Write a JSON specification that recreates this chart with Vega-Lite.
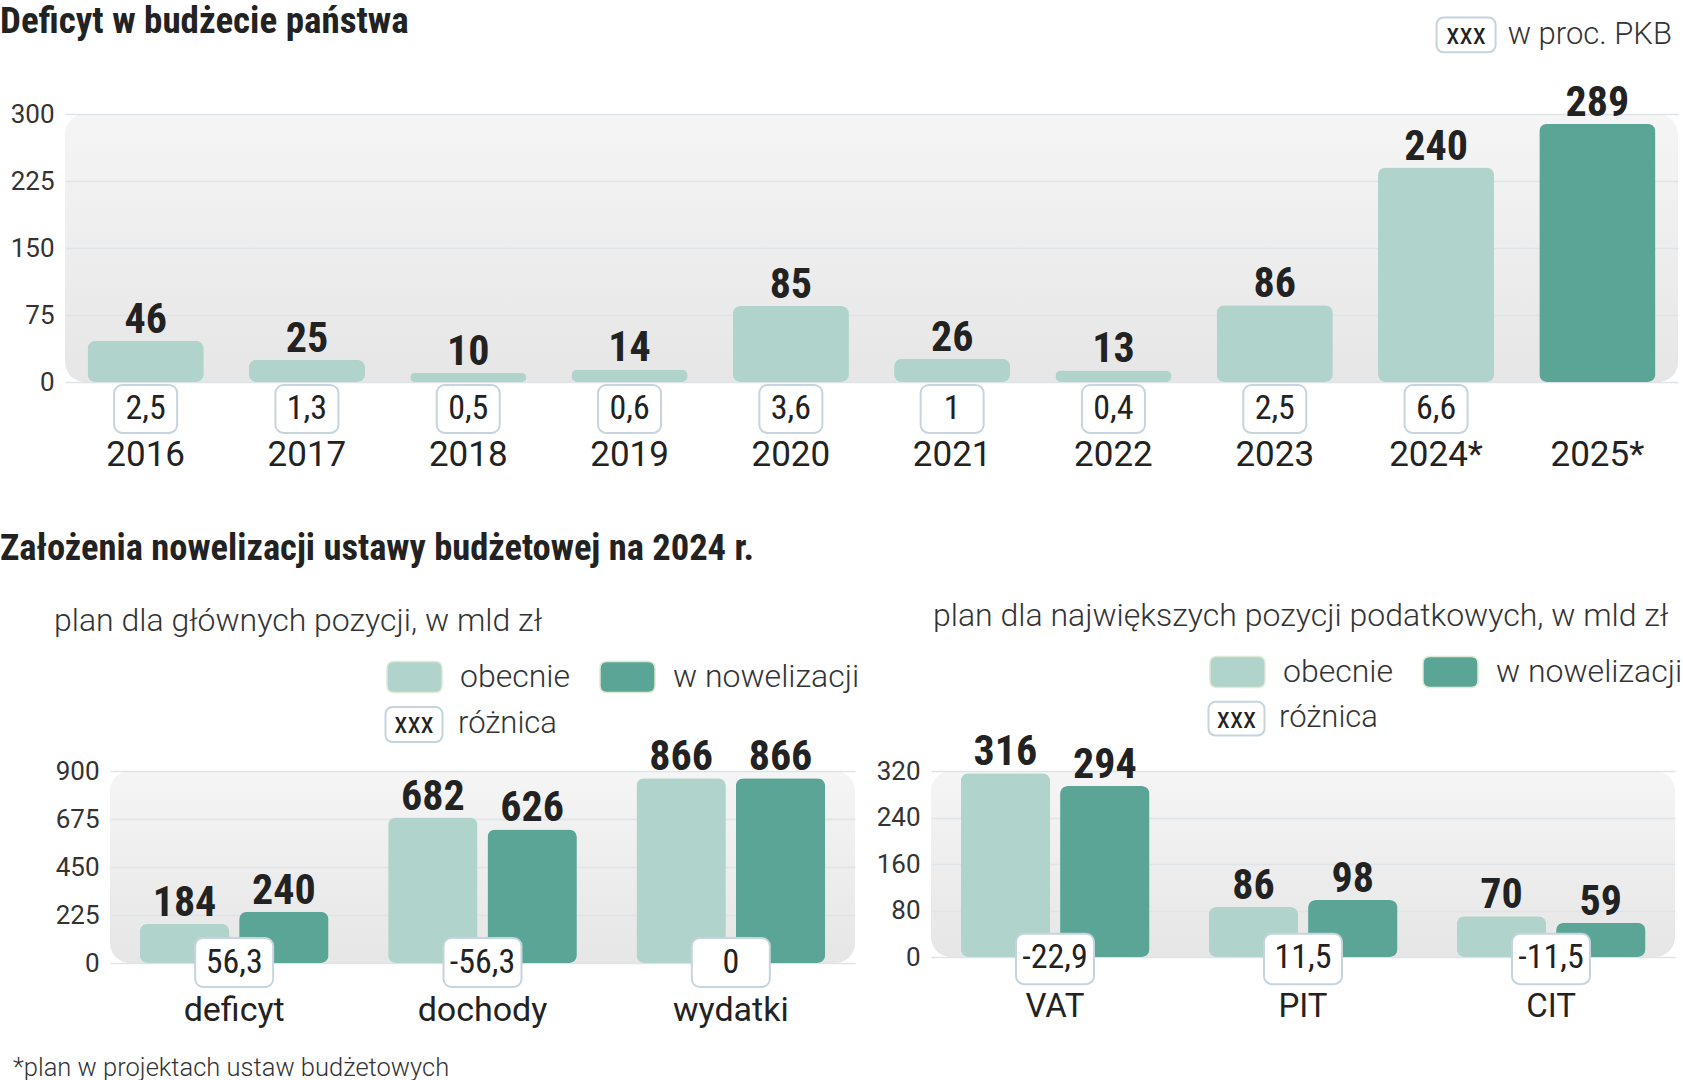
{
  "$schema": "https://vega.github.io/schema/vega-lite/v6.json",
  "padding": {"top": 2, "left": 0, "right": 0, "bottom": 0},
  "background": "white",
  "datasets": {
    "deficyt": [
      {"rok": "2016", "wartosc": 46, "pkb": 2.5, "typ": "wykonanie"},
      {"rok": "2017", "wartosc": 25, "pkb": 1.3, "typ": "wykonanie"},
      {"rok": "2018", "wartosc": 10, "pkb": 0.5, "typ": "wykonanie"},
      {"rok": "2019", "wartosc": 14, "pkb": 0.6, "typ": "wykonanie"},
      {"rok": "2020", "wartosc": 85, "pkb": 3.6, "typ": "wykonanie"},
      {"rok": "2021", "wartosc": 26, "pkb": 1, "typ": "wykonanie"},
      {"rok": "2022", "wartosc": 13, "pkb": 0.4, "typ": "wykonanie"},
      {"rok": "2023", "wartosc": 86, "pkb": 2.5, "typ": "wykonanie"},
      {"rok": "2024*", "wartosc": 240, "pkb": 6.6, "typ": "wykonanie"},
      {"rok": "2025*", "wartosc": 289, "pkb": null, "typ": "projekt"}
    ],
    "glowne": [
      {"kat": "deficyt", "seria": "obecnie", "wartosc": 184},
      {"kat": "deficyt", "seria": "w nowelizacji", "wartosc": 240},
      {"kat": "dochody", "seria": "obecnie", "wartosc": 682},
      {"kat": "dochody", "seria": "w nowelizacji", "wartosc": 626},
      {"kat": "wydatki", "seria": "obecnie", "wartosc": 866},
      {"kat": "wydatki", "seria": "w nowelizacji", "wartosc": 866}
    ],
    "glowne_roznica": [
      {"kat": "deficyt", "roznica": 56.3},
      {"kat": "dochody", "roznica": -56.3},
      {"kat": "wydatki", "roznica": 0}
    ],
    "podatki": [
      {"kat": "VAT", "seria": "obecnie", "wartosc": 316},
      {"kat": "VAT", "seria": "w nowelizacji", "wartosc": 294},
      {"kat": "PIT", "seria": "obecnie", "wartosc": 86},
      {"kat": "PIT", "seria": "w nowelizacji", "wartosc": 98},
      {"kat": "CIT", "seria": "obecnie", "wartosc": 70},
      {"kat": "CIT", "seria": "w nowelizacji", "wartosc": 59}
    ],
    "podatki_roznica": [
      {"kat": "VAT", "roznica": -22.9},
      {"kat": "PIT", "roznica": 11.5},
      {"kat": "CIT", "roznica": -11.5}
    ],
    "legenda_pkb": [{"znak": "xxx", "opis": "w proc. PKB"}],
    "legenda_roznica": [{"znak": "xxx", "opis": "różnica"}]
  },
  "title": {
    "text": "*plan w projektach ustaw budżetowych",
    "orient": "bottom",
    "anchor": "start",
    "frame": "bounds",
    "dx": 13,
    "offset": 29,
    "font": "Roboto",
    "fontWeight": 300,
    "fontSize": 25.5,
    "color": "#333333"
  },
  "spacing": 58,
  "resolve": {"scale": {"color": "independent"}},
  "vconcat": [
    {
      "width": 1613,
      "height": 268,
      "title": {
        "text": "Deficyt w budżecie państwa",
        "anchor": "start",
        "frame": "bounds",
        "offset": -24,
        "font": "Roboto Condensed, Liberation Sans Narrow, DejaVu Sans Condensed, sans-serif",
        "fontWeight": "bold",
        "fontSize": 37,
        "color": "#222222"
      },
      "encoding": {
        "x": {
          "field": "rok",
          "type": "nominal",
          "sort": null,
          "scale": {"paddingInner": 0.28, "paddingOuter": 0.14},
          "axis": {
            "title": null, "domain": false, "ticks": false, "tickSize": 0,
            "labelAngle": 0, "labelPadding": 72, "labelBaseline": "middle",
            "labelFont": "Roboto", "labelFontSize": 35, "labelColor": "#222222"
          }
        }
      },
      "layer": [
        {
          "data": {"name": "deficyt"},
          "mark": {"type": "bar", "cornerRadius": 8},
          "encoding": {
            "y": {
              "field": "wartosc", "type": "quantitative",
              "scale": {"domain": [0, 300], "nice": false},
              "axis": {
                "title": null, "values": [0, 75, 150, 225, 300], "domain": false,
                "ticks": false, "tickSize": 0, "labelPadding": 11,
                "labelFont": "Roboto", "labelFontSize": 26, "labelColor": "#333333",
                "grid": true, "gridColor": "#dfe4e9", "gridWidth": 1.5,
                "minExtent": 65, "maxExtent": 65
              }
            },
            "color": {
              "field": "typ", "type": "nominal",
              "scale": {"domain": ["wykonanie", "projekt"], "range": ["#b0d3cb", "#5ba596"]},
              "legend": null
            }
          }
        },
        {
          "data": {"name": "deficyt"},
          "mark": {
            "type": "text", "baseline": "alphabetic", "dy": -8,
            "font": "Roboto Condensed, Liberation Sans Narrow, DejaVu Sans Condensed, sans-serif",
            "fontWeight": "bold", "fontSize": 42, "color": "#222222"
          },
          "encoding": {
            "y": {"field": "wartosc", "type": "quantitative"},
            "text": {"field": "wartosc", "type": "quantitative"}
          }
        },
        {
          "data": {"name": "deficyt"},
          "transform": [{"filter": "datum.pkb != null"}],
          "mark": {
            "type": "bar", "width": 63, "cornerRadius": 8,
            "fill": "white", "stroke": "#c6d4dd", "strokeWidth": 2
          },
          "encoding": {
            "y": {"datum": -3.4, "type": "quantitative"},
            "y2": {"datum": -57}
          }
        },
        {
          "data": {"name": "deficyt"},
          "transform": [{"filter": "datum.pkb != null"}],
          "mark": {
            "type": "text", "baseline": "middle",
            "font": "Roboto Condensed, Liberation Sans Narrow, DejaVu Sans Condensed, sans-serif",
            "fontSize": 34, "color": "#222222"
          },
          "encoding": {
            "y": {"datum": -30, "type": "quantitative"},
            "text": {"field": "pkb", "type": "quantitative", "format": ".1~f"}
          }
        },
        {
          "data": {"name": "legenda_pkb"},
          "mark": {
            "type": "bar", "width": 59, "cornerRadius": 7, "xOffset": 30,
            "fill": "white", "stroke": "#c6d4dd", "strokeWidth": 2
          },
          "encoding": {
            "x": {"datum": "2024*"},
            "y": {"datum": 369, "type": "quantitative"},
            "y2": {"datum": 408}
          }
        },
        {
          "data": {"name": "legenda_pkb"},
          "mark": {
            "type": "text", "baseline": "middle", "dx": 30,
            "font": "Roboto Condensed, Liberation Sans Narrow, DejaVu Sans Condensed, sans-serif",
            "fontSize": 30, "color": "#222222"
          },
          "encoding": {
            "x": {"datum": "2024*"},
            "y": {"datum": 388, "type": "quantitative"},
            "text": {"field": "znak"}
          }
        },
        {
          "data": {"name": "legenda_pkb"},
          "mark": {
            "type": "text", "baseline": "middle", "align": "left", "dx": 71.6,
            "font": "Roboto", "fontWeight": 300, "fontSize": 31, "color": "#333333"
          },
          "encoding": {
            "x": {"datum": "2024*"},
            "y": {"datum": 388, "type": "quantitative"},
            "text": {"field": "opis"}
          }
        }
      ]
    },
    {
      "title": {
        "text": "Założenia nowelizacji ustawy budżetowej na 2024 r.",
        "anchor": "start",
        "frame": "bounds",
        "dx": -54,
        "offset": 33,
        "font": "Roboto Condensed, Liberation Sans Narrow, DejaVu Sans Condensed, sans-serif",
        "fontWeight": "bold",
        "fontSize": 36.5,
        "color": "#222222"
      },
      "spacing": -12,
      "resolve": {"scale": {"color": "independent"}},
      "hconcat": [
        {
          "width": 1,
          "height": 1,
          "view": {"fill": null, "stroke": null},
          "data": {"values": [{}]},
          "mark": {"type": "text", "text": ""}
        },
        {
          "spacing": 15,
          "resolve": {"scale": {"color": "independent"}},
          "hconcat": [
            {
              "width": 745,
              "height": 192,
              "title": {
                "text": "plan dla głównych pozycji, w mld zł",
                "anchor": "start", "frame": "bounds", "dx": 0, "offset": 10,
                "font": "Roboto", "fontWeight": 300, "fontSize": 32, "color": "#333333"
              },
              "encoding": {
                "x": {
                  "field": "kat", "type": "nominal",
                  "sort": ["deficyt", "dochody", "wydatki"],
                  "scale": {"paddingInner": 0.24, "paddingOuter": 0.12},
                  "axis": {
                    "title": null, "domain": false, "ticks": false, "tickSize": 0,
                    "labelAngle": 0, "labelPadding": 47, "labelBaseline": "middle",
                    "labelFont": "Roboto", "labelFontSize": 34, "labelColor": "#222222"
                  }
                }
              },
              "layer": [
                {
                  "data": {"name": "glowne"},
                  "mark": {"type": "bar", "cornerRadius": 8},
                  "encoding": {
                    "xOffset": {"field": "seria", "type": "nominal", "scale": {"paddingInner": 0.1, "paddingOuter": 0}},
                    "y": {
                      "field": "wartosc", "type": "quantitative",
                      "scale": {"domain": [0, 900], "nice": false},
                      "axis": {
                        "title": null, "values": [0, 225, 450, 675, 900], "domain": false,
                        "ticks": false, "tickSize": 0, "labelPadding": 11,
                        "labelFont": "Roboto", "labelFontSize": 26, "labelColor": "#333333",
                        "grid": true, "gridColor": "#dfe4e9", "gridWidth": 1.5,
                        "minExtent": 56, "maxExtent": 56
                      }
                    },
                    "color": {
                      "field": "seria", "type": "nominal",
                      "scale": {"domain": ["obecnie", "w nowelizacji"], "range": ["#b0d3cb", "#5ba596"]},
                      "legend": {
                        "orient": "none", "legendX": 276, "legendY": -123,
                        "direction": "horizontal", "title": null,
                        "symbolType": "M-0.745,-0.564L0.745,-0.564Q1,-0.564 1,-0.309L1,0.309Q1,0.564 0.745,0.564L-0.745,0.564Q-1,0.564 -1,0.309L-1,-0.309Q-1,-0.564 -0.745,-0.564Z",
                        "symbolSize": 3025, "symbolStrokeColor": "#dfe9d4", "symbolStrokeWidth": 1.5,
                        "symbolOpacity": 1,
                        "labelFont": "Roboto", "labelFontWeight": 300, "labelFontSize": 32,
                        "labelColor": "#333333", "labelOffset": 17, "labelLimit": 400,
                        "columnPadding": 26
                      }
                    }
                  }
                },
                {
                  "data": {"name": "glowne"},
                  "mark": {
                    "type": "text", "baseline": "alphabetic", "dy": -8,
                    "font": "Roboto Condensed, Liberation Sans Narrow, DejaVu Sans Condensed, sans-serif",
                    "fontWeight": "bold", "fontSize": 42, "color": "#222222"
                  },
                  "encoding": {
                    "xOffset": {"field": "seria", "type": "nominal"},
                    "y": {"field": "wartosc", "type": "quantitative"},
                    "text": {"field": "wartosc", "type": "quantitative"}
                  }
                },
                {
                  "data": {"name": "glowne_roznica"},
                  "mark": {
                    "type": "bar", "width": 78, "cornerRadius": 8,
                    "fill": "white", "stroke": "#c6d4dd", "strokeWidth": 2
                  },
                  "encoding": {
                    "y": {"datum": 117, "type": "quantitative"},
                    "y2": {"datum": -112.5}
                  }
                },
                {
                  "data": {"name": "glowne_roznica"},
                  "mark": {
                    "type": "text", "baseline": "middle",
                    "font": "Roboto Condensed, Liberation Sans Narrow, DejaVu Sans Condensed, sans-serif",
                    "fontSize": 34, "color": "#222222"
                  },
                  "encoding": {
                    "y": {"datum": 0, "type": "quantitative"},
                    "text": {"field": "roznica", "type": "quantitative", "format": ".1~f"}
                  }
                },
                {
                  "data": {"name": "legenda_roznica"},
                  "mark": {
                    "type": "bar", "width": 57, "cornerRadius": 7, "xOffset": -68.5,
                    "fill": "white", "stroke": "#c6d4dd", "strokeWidth": 2
                  },
                  "encoding": {
                    "x": {"datum": "dochody"},
                    "y": {"datum": 1036, "type": "quantitative"},
                    "y2": {"datum": 1200}
                  }
                },
                {
                  "data": {"name": "legenda_roznica"},
                  "mark": {
                    "type": "text", "baseline": "middle", "dx": -68.5,
                    "font": "Roboto Condensed, Liberation Sans Narrow, DejaVu Sans Condensed, sans-serif",
                    "fontSize": 30, "color": "#222222"
                  },
                  "encoding": {
                    "x": {"datum": "dochody"},
                    "y": {"datum": 1118, "type": "quantitative"},
                    "text": {"field": "znak"}
                  }
                },
                {
                  "data": {"name": "legenda_roznica"},
                  "mark": {
                    "type": "text", "baseline": "middle", "align": "left", "dx": -24.5,
                    "font": "Roboto", "fontWeight": 300, "fontSize": 31, "color": "#333333"
                  },
                  "encoding": {
                    "x": {"datum": "dochody"},
                    "y": {"datum": 1120, "type": "quantitative"},
                    "text": {"field": "opis"}
                  }
                }
              ]
            },
            {
              "width": 744,
              "height": 186,
              "title": {
                "text": "plan dla największych pozycji podatkowych, w mld zł",
                "anchor": "start", "frame": "bounds", "dx": 58, "offset": 10,
                "font": "Roboto", "fontWeight": 300, "fontSize": 32, "color": "#333333"
              },
              "encoding": {
                "x": {
                  "field": "kat", "type": "nominal",
                  "sort": ["VAT", "PIT", "CIT"],
                  "scale": {"paddingInner": 0.24, "paddingOuter": 0.12},
                  "axis": {
                    "title": null, "domain": false, "ticks": false, "tickSize": 0,
                    "labelAngle": 0, "labelPadding": 49, "labelBaseline": "middle",
                    "labelFont": "Roboto", "labelFontSize": 33, "labelColor": "#222222"
                  }
                }
              },
              "layer": [
                {
                  "data": {"name": "podatki"},
                  "mark": {"type": "bar", "cornerRadius": 8},
                  "encoding": {
                    "xOffset": {"field": "seria", "type": "nominal", "scale": {"paddingInner": 0.1, "paddingOuter": 0}},
                    "y": {
                      "field": "wartosc", "type": "quantitative",
                      "scale": {"domain": [0, 320], "nice": false},
                      "axis": {
                        "title": null, "values": [0, 80, 160, 240, 320], "domain": false,
                        "ticks": false, "tickSize": 0, "labelPadding": 11,
                        "labelFont": "Roboto", "labelFontSize": 26, "labelColor": "#333333",
                        "grid": true, "gridColor": "#dfe4e9", "gridWidth": 1.5,
                        "minExtent": 56, "maxExtent": 56
                      }
                    },
                    "color": {
                      "field": "seria", "type": "nominal",
                      "scale": {"domain": ["obecnie", "w nowelizacji"], "range": ["#b0d3cb", "#5ba596"]},
                      "legend": {
                        "orient": "none", "legendX": 278, "legendY": -128,
                        "direction": "horizontal", "title": null,
                        "symbolType": "M-0.745,-0.564L0.745,-0.564Q1,-0.564 1,-0.309L1,0.309Q1,0.564 0.745,0.564L-0.745,0.564Q-1,0.564 -1,0.309L-1,-0.309Q-1,-0.564 -0.745,-0.564Z",
                        "symbolSize": 3025, "symbolStrokeColor": "#dfe9d4", "symbolStrokeWidth": 1.5,
                        "symbolOpacity": 1,
                        "labelFont": "Roboto", "labelFontWeight": 300, "labelFontSize": 32,
                        "labelColor": "#333333", "labelOffset": 17, "labelLimit": 400,
                        "columnPadding": 26
                      }
                    }
                  }
                },
                {
                  "data": {"name": "podatki"},
                  "mark": {
                    "type": "text", "baseline": "alphabetic", "dy": -8,
                    "font": "Roboto Condensed, Liberation Sans Narrow, DejaVu Sans Condensed, sans-serif",
                    "fontWeight": "bold", "fontSize": 42, "color": "#222222"
                  },
                  "encoding": {
                    "xOffset": {"field": "seria", "type": "nominal"},
                    "y": {"field": "wartosc", "type": "quantitative"},
                    "text": {"field": "wartosc", "type": "quantitative"}
                  }
                },
                {
                  "data": {"name": "podatki_roznica"},
                  "mark": {
                    "type": "bar", "width": 78, "cornerRadius": 8,
                    "fill": "white", "stroke": "#c6d4dd", "strokeWidth": 2
                  },
                  "encoding": {
                    "y": {"datum": 40, "type": "quantitative"},
                    "y2": {"datum": -46.7}
                  }
                },
                {
                  "data": {"name": "podatki_roznica"},
                  "mark": {
                    "type": "text", "baseline": "middle",
                    "font": "Roboto Condensed, Liberation Sans Narrow, DejaVu Sans Condensed, sans-serif",
                    "fontSize": 34, "color": "#222222"
                  },
                  "encoding": {
                    "y": {"datum": -2, "type": "quantitative"},
                    "text": {"field": "roznica", "type": "quantitative", "format": ".1~f"}
                  }
                },
                {
                  "data": {"name": "legenda_roznica"},
                  "mark": {
                    "type": "bar", "width": 56, "cornerRadius": 7, "xOffset": -66.5,
                    "fill": "white", "stroke": "#c6d4dd", "strokeWidth": 2
                  },
                  "encoding": {
                    "x": {"datum": "PIT"},
                    "y": {"datum": 381, "type": "quantitative"},
                    "y2": {"datum": 439}
                  }
                },
                {
                  "data": {"name": "legenda_roznica"},
                  "mark": {
                    "type": "text", "baseline": "middle", "dx": -66.5,
                    "font": "Roboto Condensed, Liberation Sans Narrow, DejaVu Sans Condensed, sans-serif",
                    "fontSize": 30, "color": "#222222"
                  },
                  "encoding": {
                    "x": {"datum": "PIT"},
                    "y": {"datum": 410, "type": "quantitative"},
                    "text": {"field": "znak"}
                  }
                },
                {
                  "data": {"name": "legenda_roznica"},
                  "mark": {
                    "type": "text", "baseline": "middle", "align": "left", "dx": -24,
                    "font": "Roboto", "fontWeight": 300, "fontSize": 31, "color": "#333333"
                  },
                  "encoding": {
                    "x": {"datum": "PIT"},
                    "y": {"datum": 412, "type": "quantitative"},
                    "text": {"field": "opis"}
                  }
                }
              ]
            }
          ]
        }
      ]
    }
  ],
  "config": {
    "locale": {
      "number": {"decimal": ",", "thousands": " ", "grouping": [3], "currency": ["", " zł"], "minus": "-"}
    },
    "view": {
      "stroke": null,
      "cornerRadius": 20,
      "fill": {
        "gradient": "linear", "x1": 0, "y1": 0, "x2": 0, "y2": 1,
        "stops": [{"offset": 0, "color": "#f5f5f5"}, {"offset": 1, "color": "#e6e6e6"}]
      }
    }
  }
}
